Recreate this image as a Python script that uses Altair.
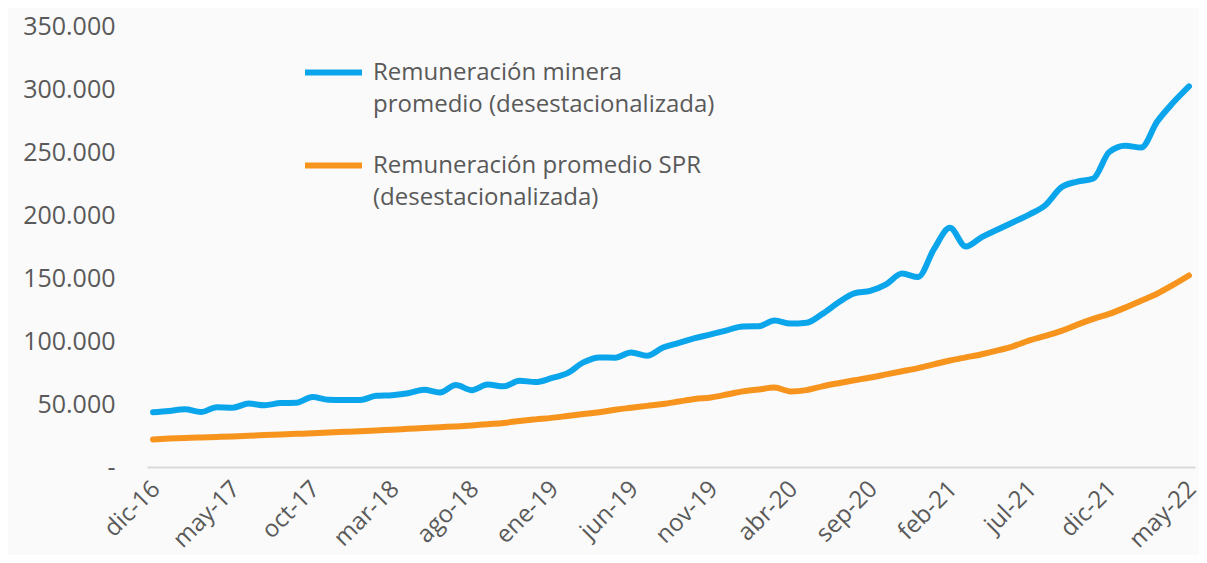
import altair as alt
import pandas as pd

months = [
    "dic-16", "ene-17", "feb-17", "mar-17", "abr-17", "may-17", "jun-17", "jul-17", "ago-17", "sep-17", "oct-17", "nov-17",
    "dic-17", "ene-18", "feb-18", "mar-18", "abr-18", "may-18", "jun-18", "jul-18", "ago-18", "sep-18", "oct-18", "nov-18",
    "dic-18", "ene-19", "feb-19", "mar-19", "abr-19", "may-19", "jun-19", "jul-19", "ago-19", "sep-19", "oct-19", "nov-19",
    "dic-19", "ene-20", "feb-20", "mar-20", "abr-20", "may-20", "jun-20", "jul-20", "ago-20", "sep-20", "oct-20", "nov-20",
    "dic-20", "ene-21", "feb-21", "mar-21", "abr-21", "may-21", "jun-21", "jul-21", "ago-21", "sep-21", "oct-21", "nov-21",
    "dic-21", "ene-22", "feb-22", "mar-22", "abr-22", "may-22",
]

tick_labels = ["dic-16", "may-17", "oct-17", "mar-18", "ago-18", "ene-19", "jun-19", "nov-19",
               "abr-20", "sep-20", "feb-21", "jul-21", "dic-21", "may-22"]

# values in thousands of pesos
minera = [43.5, 44.5, 45.8, 43.6, 47.5, 47.1, 50.3, 49.0, 50.7, 51.0,
          55.5, 53.3, 53.1, 53.2, 56.5, 57.0, 58.5, 61.3, 59.1, 65.0,
          61.0, 65.4, 64.0, 68.5, 67.4, 70.5, 74.5, 83.0, 87.0, 86.8,
          90.9, 88.3, 94.8, 98.5, 102.3, 105.2, 108.5, 111.6, 111.7, 116.2,
          113.8, 114.5, 121.5, 130.5, 137.8, 139.8, 145.0, 153.5, 150.8, 172.9,
          189.8, 175.0, 182.5, 188.5, 194.5, 200.5, 208.0, 222.0, 226.5, 229.0,
          250.0, 255.0, 253.5, 274.0, 289.0, 302.0]

spr = [21.9, 22.6, 23.1, 23.5, 23.9, 24.3, 24.8, 25.3, 25.8, 26.3,
       26.8, 27.4, 27.9, 28.4, 29.0, 29.6, 30.3, 31.0, 31.6, 32.2,
       33.0, 34.0, 35.0, 36.5, 37.8, 39.0, 40.5, 42.0, 43.5, 45.5,
       47.0, 48.5, 50.0, 52.0, 54.0, 55.2, 57.5, 60.0, 61.5, 63.0,
       60.0, 61.0, 64.0, 66.5, 68.8, 71.0, 73.5, 76.0, 78.5, 81.5,
       84.5, 87.0, 89.5, 92.5, 96.0, 100.5, 104.0, 108.0, 113.0, 117.5,
       121.5, 126.5, 132.0, 137.5, 144.5, 152.0]

series = ["Remuneración minera promedio (desestacionalizada)",
          "Remuneración promedio SPR (desestacionalizada)"]
legend_lines = [[" Remuneración minera", "promedio (desestacionalizada)"],
                [" Remuneración promedio SPR", "(desestacionalizada)"]]
colors = ["#0ba5ec", "#f7941d"]

y_ticks = [0, 50000, 100000, 150000, 200000, 250000, 300000, 350000]

df = pd.DataFrame({
    "mes": months + months,
    "serie": [series[0]] * len(months) + [series[1]] * len(months),
    "valor": [v * 1000 for v in minera] + [v * 1000 for v in spr],
})

def arr(lines):
    return "[" + ",".join("'" + l + "'" for l in lines) + "]"

legend_expr = f"datum.label == '{series[0]}' ? {arr(legend_lines[0])} : {arr(legend_lines[1])}"

chart = alt.Chart(df).mark_line(strokeWidth=6, interpolate="monotone", strokeCap="round").encode(
    x=alt.X("mes:O", sort=months,
            scale=alt.Scale(type="point", padding=0.38),
            axis=alt.Axis(values=tick_labels, labelAngle=-45, labelAlign="right", labelBaseline="middle",
                          labelFontSize=24, labelColor="#595959", labelPadding=18, labelOffset=3,
                          ticks=False, domainColor="#d9d9d9", domainWidth=2, grid=False, title=None)),
    y=alt.Y("valor:Q",
            scale=alt.Scale(domain=[0, 350000], nice=False, zero=True),
            axis=alt.Axis(values=y_ticks, grid=False, domain=False, ticks=False,
                          labelFontSize=25, labelColor="#595959", labelPadding=32, title=None,
                          labelExpr="datum.value == 0 ? '-\u00a0\u00a0\u00a0' : replace(format(datum.value, ',.0f'), ',', '.')")),
    color=alt.Color("serie:N", sort=series,
                    scale=alt.Scale(domain=series, range=colors),
                    legend=alt.Legend(orient="none", legendX=155, legendY=15, title=None,
                                      symbolType="stroke", symbolSize=3249, symbolStrokeWidth=6,
                                      labelFontSize=24, labelColor="#595959", labelLimit=700,
                                      labelBaseline="middle", labelOffset=8, rowPadding=17,
                                      padding=0, labelExpr=legend_expr)),
).properties(
    width=1048, height=441,
    autosize=alt.AutoSizeParams(type="none"),
    padding={"left": 139, "top": 18, "right": 4, "bottom": 88},
    background="#fafafa",
).configure(
    font="Open Sans",
    style={"guide-label": {"lineHeight": 32}},
).configure_view(
    stroke=None,
)

chart.save("out.html", embed_options={"renderer": "svg", "actions": False})
